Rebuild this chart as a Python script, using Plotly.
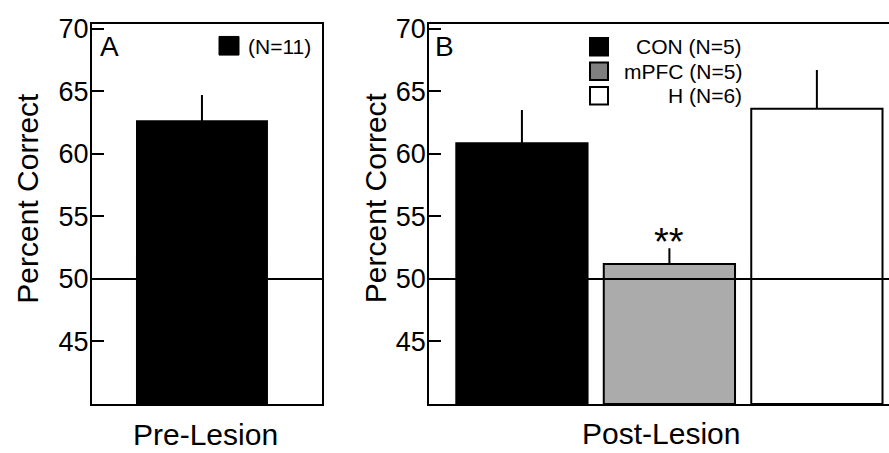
import plotly.graph_objects as go

# ---- data ----
pre_labels = ["(N=11)"]
pre_means = [62.6]
pre_err = [2.1]

post_groups = ["CON (N=5)", "mPFC (N=5)", "H (N=6)"]
post_means = [60.85, 51.2, 63.6]
post_err = [2.65, 1.25, 3.1]
post_colors = ["#000000", "#ababab", "#ffffff"]
legend_colors = ["#000000", "#7f7f7f", "#ffffff"]

y_ticks = [45, 50, 55, 60, 65, 70]
chance = 50

W, H = 889, 453
FONT = "Arial, 'Liberation Sans', sans-serif"

def px(x):
    return x / W

def py(y):
    return 1 - y / H

fig = go.Figure()

fig.add_trace(go.Bar(
    x=[0], y=[m - 40 for m in pre_means], base=40,
    marker=dict(color="#000000", line=dict(color="#000000", width=2)),
    error_y=dict(type="data", symmetric=False, array=pre_err, arrayminus=[0],
                 color="#000000", thickness=2, width=0),
    xaxis="x", yaxis="y", showlegend=False,
))

fig.add_trace(go.Bar(
    x=list(range(len(post_groups))), y=[m - 40 for m in post_means], base=40,
    marker=dict(color=post_colors, line=dict(color="#000000", width=2)),
    error_y=dict(type="data", symmetric=False, array=post_err,
                 arrayminus=[0] * len(post_err),
                 color="#000000", thickness=2, width=0),
    xaxis="x2", yaxis="y2", showlegend=False,
))

ydom = [py(403), py(15)]
axis_common = dict(showgrid=False, zeroline=False, linecolor="#000000", linewidth=2)
ytick_common = dict(tickvals=y_ticks, ticks="inside", ticklen=12, tickwidth=2,
                    tickcolor="#000000", tickfont=dict(size=27, family=FONT),
                    ticklabelstandoff=-4)

fig.update_layout(
    width=W, height=H, autosize=False,
    margin=dict(l=0, r=0, t=0, b=0),
    paper_bgcolor="white", plot_bgcolor="white",
    bargap=0.11,
    font=dict(family=FONT, color="#000000"),
    xaxis=dict(domain=[px(92), px(322)], range=[-0.753, 0.822], showticklabels=False,
               ticks="", showline=True, mirror=True, anchor="y", **axis_common),
    yaxis=dict(domain=ydom, range=[40, 70.4], showline=True, mirror=True,
               anchor="x", **ytick_common, **axis_common),
    xaxis2=dict(domain=[px(429.3), 1], range=[-0.628, 2.489], showticklabels=False,
                ticks="", showline=True, mirror=True, anchor="y2", **axis_common),
    yaxis2=dict(domain=ydom, range=[40, 70.4], showline=True, mirror=False,
                anchor="x2", **ytick_common, **axis_common),
)

shapes = []
for xr, yr in [("x domain", "y"), ("x2 domain", "y2")]:
    shapes.append(dict(type="line", xref=xr, yref=yr, x0=0, x1=1, y0=chance, y1=chance,
                       line=dict(color="#000000", width=2), layer="above"))

annotations = []
# panel letters
annotations.append(dict(text="A", x=px(98), y=py(38), xref="paper", yref="paper",
                        xanchor="left", yanchor="middle", showarrow=False, font=dict(size=28)))
annotations.append(dict(text="B", x=px(433), y=py(38), xref="paper", yref="paper",
                        xanchor="left", yanchor="middle", showarrow=False, font=dict(size=28)))
# y titles
for xc in [27.5, 375]:
    annotations.append(dict(text="Percent Correct", x=px(xc), y=py(193), xref="paper", yref="paper",
                            xanchor="center", yanchor="middle", textangle=-90, showarrow=False,
                            font=dict(size=30)))
# x labels
annotations.append(dict(text="Pre-Lesion", x=px(205), y=py(434), xref="paper", yref="paper",
                        xanchor="center", yanchor="middle", showarrow=False, font=dict(size=30)))
annotations.append(dict(text="Post-Lesion", x=px(661), y=py(452), xref="paper", yref="paper",
                        xanchor="center", yanchor="bottom", showarrow=False, font=dict(size=30)))
# significance
annotations.append(dict(text="**", x=1, y=post_means[1] + post_err[1], xref="x2", yref="y2",
                        xanchor="center", yanchor="bottom", showarrow=False, yshift=-17,
                        font=dict(size=38)))

# legend A
shapes.append(dict(type="rect", xref="paper", yref="paper", x0=px(219), x1=px(239),
                   y0=py(47), y1=py(28), fillcolor="#000000", line=dict(color="#000000", width=1)))
annotations.append(dict(text=pre_labels[0], x=px(246), y=py(38), xref="paper", yref="paper",
                        xanchor="left", yanchor="middle", showarrow=False, font=dict(size=21)))
# legend B
for i, (g, c) in enumerate(zip(post_groups, legend_colors)):
    yc = 38.5 + 25 * i
    shapes.append(dict(type="rect", xref="paper", yref="paper", x0=px(590), x1=px(608),
                       y0=py(yc + 9), y1=py(yc - 9), fillcolor=c,
                       line=dict(color="#000000", width=2)))
    annotations.append(dict(text=g, x=px(744), y=py(yc), xref="paper", yref="paper",
                            xanchor="right", yanchor="middle", showarrow=False, font=dict(size=21)))

fig.update_layout(shapes=shapes, annotations=annotations)

fig.write_html("out.html", config={"displayModeBar": False},
               post_script="document.body.style.margin='0';")
